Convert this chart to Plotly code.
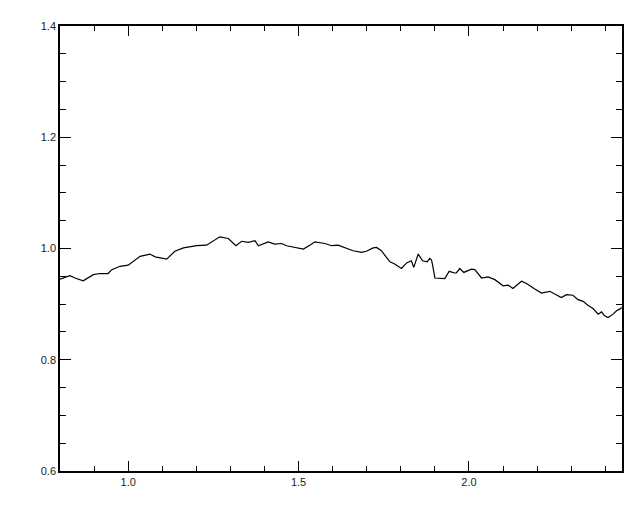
import plotly.graph_objects as go

wavelength = [0.800, 0.829, 0.844, 0.868, 0.898, 0.917, 0.941, 0.952, 0.976, 1.000,
              1.035, 1.064, 1.079, 1.113, 1.137, 1.162, 1.201, 1.230, 1.269, 1.294,
              1.316, 1.333, 1.352, 1.372, 1.382, 1.396, 1.411, 1.430, 1.450, 1.465,
              1.494, 1.514, 1.533, 1.548, 1.577, 1.597, 1.616, 1.636, 1.660, 1.685,
              1.699, 1.719, 1.729, 1.743, 1.768, 1.782, 1.802, 1.817, 1.831, 1.838,
              1.851, 1.864, 1.877, 1.885, 1.890, 1.893, 1.900, 1.929, 1.942, 1.958,
              1.963, 1.973, 1.985, 2.007, 2.017, 2.037, 2.056, 2.076, 2.100, 2.115,
              2.129, 2.154, 2.169, 2.193, 2.213, 2.237, 2.257, 2.271, 2.286, 2.305,
              2.320, 2.335, 2.349, 2.364, 2.379, 2.389, 2.398, 2.408, 2.423, 2.433,
              2.442, 2.448]
ratio = [0.945, 0.951, 0.947, 0.942, 0.953, 0.955, 0.955, 0.962, 0.968, 0.970,
         0.986, 0.990, 0.985, 0.981, 0.995, 1.001, 1.005, 1.006, 1.021, 1.018,
         1.005, 1.013, 1.011, 1.014, 1.005, 1.009, 1.012, 1.008, 1.009, 1.005,
         1.002, 0.999, 1.006, 1.012, 1.009, 1.005, 1.006, 1.001, 0.996, 0.993,
         0.995, 1.001, 1.002, 0.996, 0.976, 0.972, 0.964, 0.974, 0.978, 0.966,
         0.990, 0.978, 0.976, 0.982, 0.979, 0.971, 0.947, 0.946, 0.959, 0.956,
         0.956, 0.964, 0.957, 0.963, 0.962, 0.947, 0.949, 0.944, 0.933, 0.934,
         0.928, 0.941, 0.937, 0.927, 0.920, 0.923, 0.916, 0.912, 0.917, 0.916,
         0.908, 0.905, 0.898, 0.892, 0.882, 0.886, 0.879, 0.876, 0.882, 0.888,
         0.891, 0.894]

x_range = [0.8, 2.449]
y_range = [0.6, 1.4]
x_ticks = [1.0, 1.5, 2.0]
x_tick_labels = ["1.0", "1.5", "2.0"]
y_ticks = [0.6, 0.8, 1.0, 1.2, 1.4]
y_tick_labels = ["0.6", "0.8", "1.0", "1.2", "1.4"]

fig = go.Figure()
fig.add_trace(go.Scatter(x=wavelength, y=ratio, mode="lines",
                         line=dict(color="black", width=1.2), showlegend=False))

axis_common = dict(showline=True, linecolor="black", linewidth=1.5, mirror="ticks",
                   ticks="inside", tickcolor="black", tickwidth=1.3,
                   showgrid=False, zeroline=False,
                   tickfont=dict(family="Liberation Sans, Arial, sans-serif", size=11, color="#222"))

fig.update_xaxes(range=x_range, tickvals=x_ticks, ticktext=x_tick_labels, ticklen=10,
                 minor=dict(dtick=0.1, tick0=0.8, ticklen=5, ticks="inside", tickcolor="black", tickwidth=1.3, showgrid=False),
                 **axis_common)
fig.update_yaxes(range=y_range, tickvals=y_ticks, ticktext=y_tick_labels, ticklen=11,
                 minor=dict(dtick=0.05, tick0=0.6, ticklen=6, ticks="inside", tickcolor="black", tickwidth=1.3, showgrid=False),
                 **axis_common)

fig.update_layout(width=640, height=512, margin=dict(l=52, r=26, t=12, b=49),
                  paper_bgcolor="white", plot_bgcolor="white")

fig.write_html("out.html")
